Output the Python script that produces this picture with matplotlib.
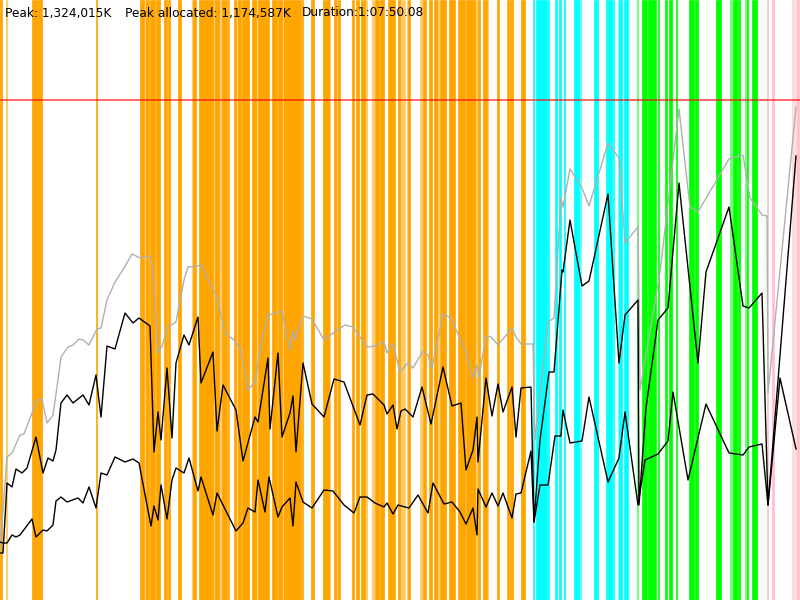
import numpy as np
import matplotlib.pyplot as plt

# time axis: 0..800 (1 unit ~ 5.1 s), memory axis: 0..600 units, peak = 500
peak_level = 500
peak_text = 'Peak: 1,324,015K'
alloc_text = 'Peak allocated: 1,174,587K'
dur_text = 'Duration:1:07:50.08'

# committed heap (grey)
t_heap = [0, 7, 12, 20, 24, 32, 36, 42, 47, 53, 57, 61, 68, 73, 79, 83, 89, 97, 101, 107, 115, 124, 132,
          140, 150, 153, 158, 162, 168, 176, 184, 188, 198, 201, 214, 217, 225, 234, 240, 243, 248, 255,
          262, 268, 273, 282, 290, 293, 295, 303, 312, 324, 333, 345, 353, 367, 375, 384, 387, 393, 400,
          405, 408, 413, 423, 428, 432, 443, 451, 465, 473, 477, 479, 486, 491, 498, 512, 516, 521, 533,
          535, 548, 554, 561, 563, 570, 582, 589, 608, 619, 625, 638, 640, 660, 679, 690, 698, 729, 743,
          750, 762, 767, 768, 796]
heap = [50, 143, 147, 165, 166, 187, 199, 201, 177, 185, 213, 243, 253, 255, 261, 260, 255, 271, 272, 300,
        318, 332, 346, 342, 344, 332, 247, 254, 273, 278, 320, 333, 334, 336, 308, 303, 267, 260, 252, 238,
        210, 218, 260, 285, 286, 289, 250, 270, 260, 284, 281, 260, 267, 275, 273, 253, 254, 258, 247, 256,
        228, 234, 237, 232, 249, 245, 232, 286, 282, 250, 222, 235, 223, 264, 263, 255, 272, 263, 256, 256,
        160, 278, 282, 402, 393, 431, 412, 394, 457, 442, 357, 373, 210, 328, 491, 393, 388, 441, 445, 402,
        385, 384, 207, 493]

# used before / after collection (black)
t_used = [0, 3, 7, 12, 16, 22, 27, 36, 43, 48, 53, 56, 61, 67, 73, 83, 89, 96, 101, 107, 115, 125, 133,
          139, 150, 154, 158, 161, 167, 172, 176, 184, 189, 198, 201, 213, 217, 223, 236, 243, 255, 258,
          268, 270, 278, 282, 290, 293, 296, 303, 312, 324, 334, 344, 360, 367, 373, 384, 387, 393, 397,
          401, 405, 413, 422, 431, 443, 452, 461, 466, 473, 477, 478, 486, 492, 498, 503, 512, 516, 521,
          531, 534, 540, 549, 554, 562, 563, 570, 582, 589, 608, 619, 625, 638, 639, 646, 658, 668, 679,
          698, 706, 729, 743, 749, 762, 768, 796]
used = [47, 47, 117, 113, 131, 127, 132, 163, 127, 142, 139, 150, 197, 205, 197, 205, 195, 225, 183, 254,
        251, 287, 277, 282, 274, 148, 188, 160, 232, 162, 237, 265, 255, 283, 217, 248, 169, 215, 190, 139,
        183, 178, 242, 171, 247, 163, 187, 204, 148, 237, 196, 183, 221, 218, 175, 205, 206, 195, 186, 195,
        171, 189, 191, 183, 213, 176, 233, 194, 197, 130, 150, 183, 138, 222, 184, 216, 188, 213, 163, 212,
        213, 78, 160, 228, 228, 330, 328, 380, 314, 319, 406, 237, 285, 300, 95, 192, 280, 292, 417,
        237, 328, 393, 294, 292, 307, 95, 444]

t_after = [0, 3, 7, 12, 16, 20, 32, 36, 43, 47, 53, 56, 61, 67, 78, 83, 89, 96, 101, 107, 115, 125, 133,
           139, 151, 154, 158, 161, 167, 172, 176, 184, 189, 198, 201, 213, 217, 236, 243, 248, 255, 258,
           265, 269, 278, 282, 290, 293, 296, 303, 312, 324, 333, 344, 354, 360, 367, 375, 384, 387, 393,
           398, 405, 409, 418, 428, 433, 444, 452, 460, 466, 473, 477, 478, 486, 492, 498, 503, 512, 516,
           521, 531, 534, 540, 548, 555, 561, 563, 570, 582, 589, 608, 619, 625, 638, 645, 658, 668, 673,
           688, 706, 729, 743, 749, 762, 768, 780, 796]
after = [58, 57, 57, 65, 63, 65, 81, 63, 70, 69, 75, 99, 103, 98, 102, 97, 113, 92, 127, 125, 143, 138, 141,
         137, 74, 94, 80, 115, 81, 120, 132, 127, 142, 109, 123, 85, 107, 69, 77, 92, 88, 120,
         88, 123, 83, 93, 102, 74, 118, 98, 92, 110, 109, 95, 87, 103, 103, 97, 93, 97, 86,
         95, 93, 92, 105, 87, 117, 96, 98, 88, 76, 92, 65, 111, 93, 107, 94, 107, 82, 106,
         107, 149, 78, 115, 115, 164, 164, 190, 157, 159, 203, 118, 142, 188, 95, 140, 146, 159, 208,
         120, 196, 147, 145, 153, 156, 95, 222, 151]

# collection events: (start, end, partial)
young_gc = [(0, 1.7, 0), (6, 6.7, 1), (32, 36, 0), (36, 37, 1), (37, 42, 0), (96, 97, 0),
            (140, 144, 0), (144.7, 145.7, 1), (146, 149, 0), (150, 154, 0), (154.3, 155.3, 0),
            (156, 158.7, 0), (159.3, 160, 0), (164, 167.3, 0), (168, 170, 0), (178, 180.7, 0),
            (191.7, 193.3, 1), (193.3, 196, 0), (199, 213.3, 0), (213.3, 215, 1), (215, 219.3, 0),
            (219.3, 221.7, 1), (221.7, 227, 0), (227.7, 228.7, 0), (234, 236, 0), (236.7, 237.7, 1),
            (237.7, 241, 0), (242, 249, 0), (252, 255.7, 0), (256, 257, 1), (257.7, 269, 0),
            (271.7, 276.7, 0), (277.7, 282.3, 0), (282.3, 284, 1), (284, 286, 0), (286.3, 287.7, 0),
            (288.3, 291.7, 0), (292.3, 300.7, 0), (301.7, 302.7, 0), (311, 313.7, 0), (323.3, 329, 0),
            (329, 330, 1), (334.3, 335.7, 0), (336, 338.3, 1), (338.3, 339.7, 0), (352.3, 353.7, 0),
            (355.7, 359, 0), (361, 365, 0), (365, 367, 1), (372.3, 373.7, 1), (375, 379, 0),
            (380, 383.7, 0), (388.3, 395, 0), (397.7, 400, 0), (400, 401.7, 1), (402.7, 404.7, 1),
            (406.7, 407.7, 1), (407.7, 410, 0), (420, 422.3, 1), (423.3, 426, 0), (429.3, 432, 0),
            (434.3, 436.7, 0), (436.7, 439.3, 1), (440, 446, 0), (449.3, 455, 0), (458.3, 465, 0),
            (465.7, 475, 0), (475, 477.3, 1), (477.7, 480, 0), (482.7, 487.3, 0), (487.3, 488.3, 1),
            (496.7, 498.7, 0), (506.7, 508.7, 0), (510, 512.7, 0), (520.7, 525, 0)]
mixed_gc = [(532.7, 534, 0), (536, 547.3, 0), (548.3, 549.3, 0), (555, 557.3, 0), (559.3, 561, 0),
            (564, 565.3, 0), (574.3, 579, 0), (579, 580.7, 1), (594, 597.7, 0), (606, 612, 0),
            (613.3, 614, 0), (617.7, 619, 1), (619, 622, 0), (623.7, 627.7, 0)]
remark = [(636.7, 638.3, 1), (641.7, 646.7, 0), (648.3, 652.7, 0), (653.3, 656, 0), (658, 659.3, 0),
          (665, 666.7, 0), (669.3, 671.7, 0), (675.7, 677, 0), (689, 694, 0), (695, 697.7, 0),
          (715.7, 721.3, 0), (730, 731.7, 1), (732.7, 737.3, 0), (738.3, 739.7, 0), (745, 746.5, 1),
          (746.5, 748.3, 0), (751.7, 757.3, 0)]
full_gc = [(766.7, 768, 0), (771.7, 774, 0), (791.7, 796.7, 1), (796.7, 799.3, 0)]

fig = plt.figure(figsize=(8, 6), dpi=100)
ax = fig.add_axes([0, 0, 1, 1])

for events, col in [(young_gc, '#ffa500'), (mixed_gc, '#00ffff'), (remark, '#00ff00'), (full_gc, '#ffc0cb')]:
    for s, e, part in events:
        ax.axvspan(s, e, facecolor=col, edgecolor=col, lw=0.5,
                   alpha=0.55 if part else 1.0, zorder=1)

ax.plot(t_heap, heap, color='#b0b0b0', lw=1, zorder=2)
ax.plot(t_used, used, color='black', lw=1, zorder=3)
ax.plot(t_after, after, color='black', lw=1, zorder=3)

ax.axhline(peak_level, color='red', alpha=0.6, lw=1.4, zorder=4)

ax.text(5, 587, peak_text, fontsize=8.7, va='center', zorder=5)
ax.text(125, 587, alloc_text, fontsize=8.7, va='center', zorder=5)
ax.text(302, 587, dur_text, fontsize=8.7, va='center', zorder=5)

ax.set_xlim(0, 800)
ax.set_ylim(0, 600)
ax.axis('off')

plt.savefig('out.png', dpi=100)
